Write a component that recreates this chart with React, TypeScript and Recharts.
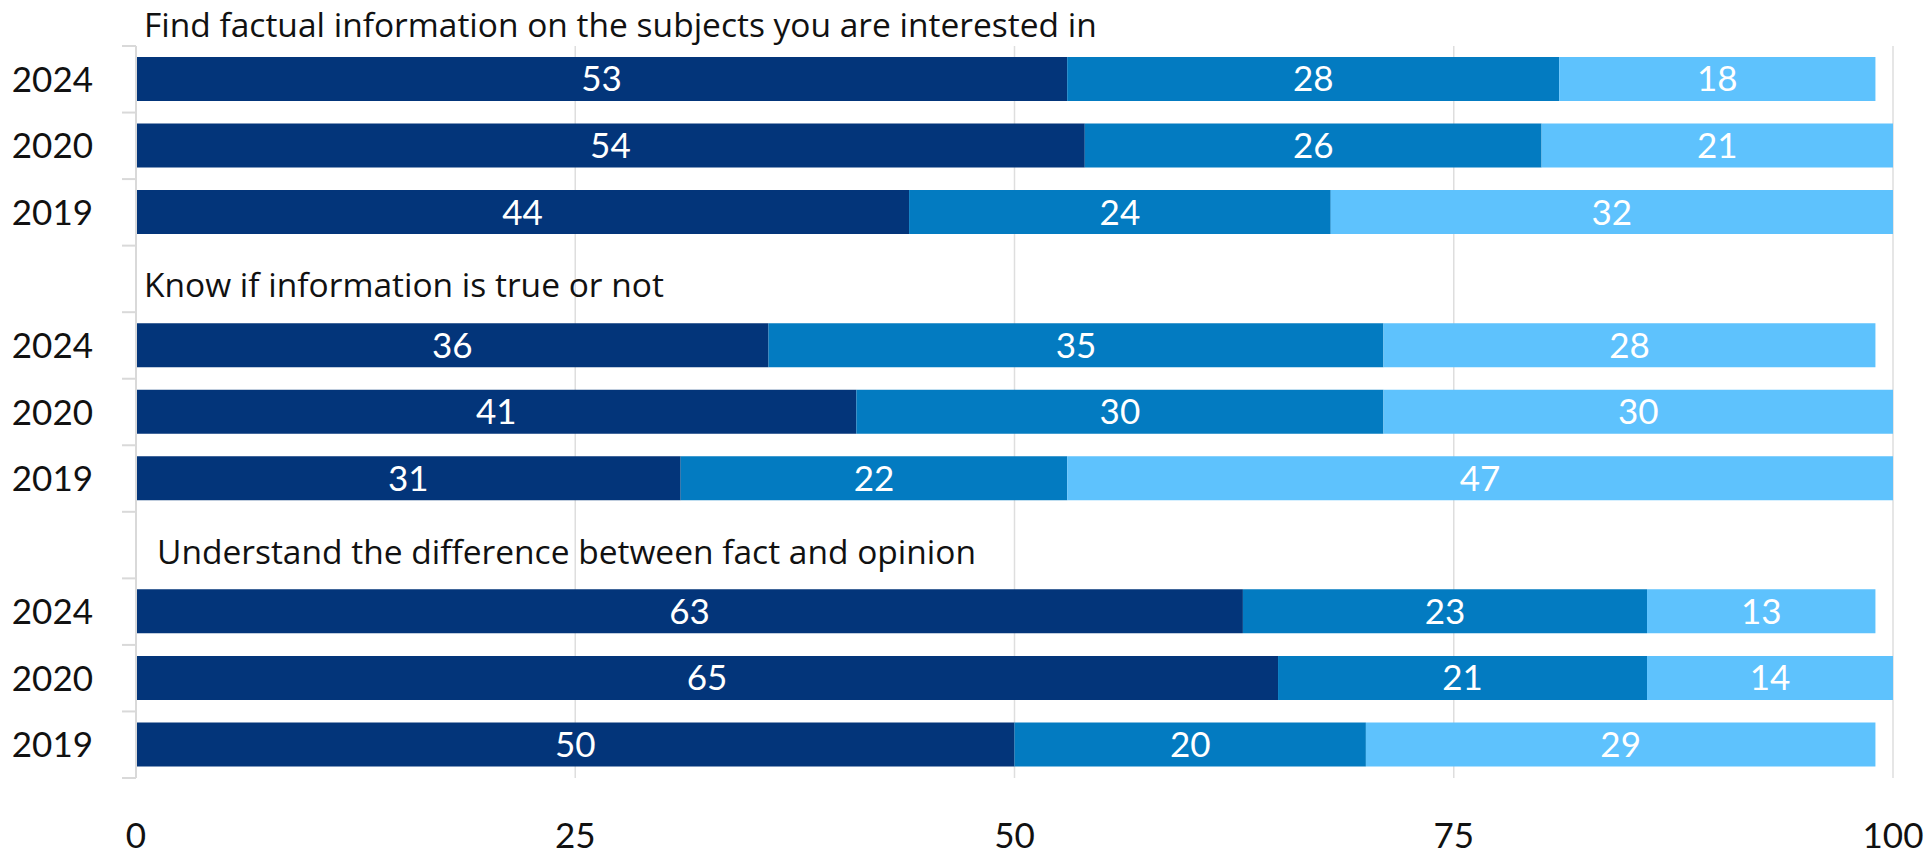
import { BarChart, Bar, XAxis, YAxis, CartesianGrid, LabelList } from 'recharts';

const groupTitles = [
  'Find factual information on the subjects you are interested in',
  'Know if information is true or not',
  'Understand the difference between fact and opinion',
];
const years = ['2024', '2020', '2019'];

// one inner array per group, in the order of `years`
const darkShare = [
  [53, 54, 44],
  [36, 41, 31],
  [63, 65, 50],
];
const midShare = [
  [28, 26, 24],
  [35, 30, 22],
  [23, 21, 20],
];
const lightShare = [
  [18, 21, 32],
  [28, 30, 47],
  [13, 14, 29],
];
const xTicks = [0, 25, 50, 75, 100];

const FONT = 'Lato, "Open Sans", sans-serif';
const TITLE_FONT = '"Open Sans", Lato, sans-serif';
const WIDTH = 1926;
const HEIGHT = 858;
const MARGIN = { top: 46, right: 33, bottom: 0, left: 0 };
const AXIS_W = 136;
const XAXIS_H = 80;

type Row = {
  key: string;
  year: string;
  group: number;
  first: boolean;
  dark?: number;
  mid?: number;
  light?: number;
};

const rows: Row[] = [];
groupTitles.forEach((_, g) => {
  if (g > 0) rows.push({ key: `gap-${g}`, year: '', group: g, first: false });
  years.forEach((year, i) =>
    rows.push({
      key: `${g}-${year}`,
      year,
      group: g,
      first: i === 0,
      dark: darkShare[g][i],
      mid: midShare[g][i],
      light: lightShare[g][i],
    })
  );
});
const rowByKey = new Map(rows.map((r) => [r.key, r]));

const plotH = HEIGHT - MARGIN.top - MARGIN.bottom - XAXIS_H;
const band = plotH / rows.length;
const titleIndent = [0, 0, 13];

function YearTick(props: any) {
  const { y, payload, index } = props;
  const row = rowByKey.get(payload.value);
  if (!row) return null;
  const isLast = index === rows.length - 1;
  return (
    <g>
      <line x1={AXIS_W - 14} x2={AXIS_W} y1={y - band / 2} y2={y - band / 2} stroke="#d9d9d9" strokeWidth={2} />
      {isLast && (
        <line x1={AXIS_W - 14} x2={AXIS_W} y1={y + band / 2} y2={y + band / 2} stroke="#d9d9d9" strokeWidth={2} />
      )}
      {row.year && (
        <text x={93} y={y + 12.5} textAnchor="end" fontSize={35} fontFamily={FONT} fill="#111">
          {row.year}
        </text>
      )}
      {row.first && (
        <text
          x={AXIS_W + 8 + titleIndent[row.group]}
          y={Math.max(y - 48, 37)}
          textAnchor="start"
          fontSize={33.5}
          fontFamily={TITLE_FONT}
          fill="#111"
        >
          {groupTitles[row.group]}
        </text>
      )}
    </g>
  );
}

const labelStyle = { fill: '#ffffff', fontSize: 35, fontFamily: FONT };
const showValue = (v: any) => (v === undefined || v === null ? '' : v);

export default function App() {
  return (
    <div style={{ position: 'absolute', left: 0, top: 0, width: WIDTH, height: HEIGHT, background: '#fff' }}>
      <BarChart width={WIDTH} height={HEIGHT} data={rows} layout="vertical" margin={MARGIN} barSize={44}>
        <CartesianGrid horizontal={false} stroke="#dedede" strokeWidth={1.5} />
        <XAxis
          type="number"
          domain={[0, 100]}
          ticks={xTicks}
          allowDataOverflow
          height={XAXIS_H}
          axisLine={false}
          tickLine={false}
          tickMargin={39}
          tick={{ fontSize: 35, fill: '#111', fontFamily: FONT }}
        />
        <YAxis
          type="category"
          dataKey="key"
          width={AXIS_W}
          interval={0}
          axisLine={{ stroke: '#d9d9d9', strokeWidth: 2 }}
          tickLine={false}
          tick={<YearTick />}
        />
        <Bar dataKey="dark" stackId="s" fill="#03357a" isAnimationActive={false}>
          <LabelList dataKey="dark" position="center" formatter={showValue} style={labelStyle} />
        </Bar>
        <Bar dataKey="mid" stackId="s" fill="#037bc1" isAnimationActive={false}>
          <LabelList dataKey="mid" position="center" formatter={showValue} style={labelStyle} />
        </Bar>
        <Bar dataKey="light" stackId="s" fill="#5ec2fd" isAnimationActive={false}>
          <LabelList dataKey="light" position="center" formatter={showValue} style={labelStyle} />
        </Bar>
      </BarChart>
    </div>
  );
}
